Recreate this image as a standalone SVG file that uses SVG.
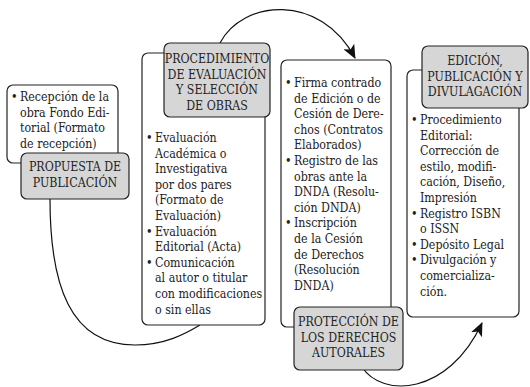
<svg xmlns="http://www.w3.org/2000/svg" width="530" height="387" viewBox="0 0 530 387">
<defs>
<marker id="ah" viewBox="0 0 14 12" refX="13" refY="6" markerWidth="14" markerHeight="12" markerUnits="userSpaceOnUse" orient="auto">
<path d="M0,0 L14,6 L0,12 L3.5,6 Z" fill="#111"/>
</marker>
<style>
text{font-family:"DejaVu Serif Condensed","DejaVu Serif",serif;font-stretch:condensed;font-size:12.3px;fill:#222}
.c{text-anchor:middle}
.w{fill:#fff;stroke:#222;stroke-width:1.2}
.g{fill:#d6d6d6;stroke:#222;stroke-width:1.2}
.ln{fill:none;stroke:#111;stroke-width:1.2}
</style>
</defs>
<rect width="530" height="387" fill="#fff"/>
<g id="connectors">
<path class="ln" d="M50,199 C50,285 70,345 135,345 C165,345 185,334 200,325"/>
<path class="ln" d="M220,43 C242,0 320,-8 355,58" marker-end="url(#ah)"/>
<path class="ln" d="M362,367 C382,398 448,396 482,323" marker-end="url(#ah)"/>
</g>
<g id="propuesta">
<rect class="w" x="7" y="85" width="111" height="78" rx="6"/>
<text x="11" y="101">•</text>
<text x="20" y="101">Recepción de la</text>
<text x="20" y="116.6">obra Fondo Edi-</text>
<text x="20" y="132.2">torial (Formato</text>
<text x="20" y="147.8">de recepción)</text>
<rect class="g" x="21" y="153" width="108" height="46" rx="6"/>
<text class="c" x="75" y="171">PROPUESTA DE</text>
<text class="c" x="75" y="186.6">PUBLICACIÓN</text>
</g>
<g id="evaluacion">
<rect class="w" x="142" y="53" width="123" height="272" rx="6"/>
<rect class="g" x="164" y="43" width="106" height="74" rx="6"/>
<text class="c" x="217" y="63">PROCEDIMIENTO</text>
<text class="c" x="217" y="78.6">DE EVALUACIÓN</text>
<text class="c" x="217" y="94.2">Y SELECCIÓN</text>
<text class="c" x="217" y="109.8">DE OBRAS</text>
<text x="146" y="142">•</text>
<text x="155" y="142">Evaluación</text>
<text x="155" y="157.6">Académica o</text>
<text x="155" y="173.2">Investigativa</text>
<text x="155" y="188.8">por dos pares</text>
<text x="155" y="204.4">(Formato de</text>
<text x="155" y="220">Evaluación)</text>
<text x="146" y="235.6">•</text>
<text x="155" y="235.6">Evaluación</text>
<text x="155" y="251.2">Editorial (Acta)</text>
<text x="146" y="266.8">•</text>
<text x="155" y="266.8">Comunicación</text>
<text x="155" y="282.4">al autor o titular</text>
<text x="155" y="298">con modificaciones</text>
<text x="155" y="313.6">o sin ellas</text>
</g>
<g id="proteccion">
<rect class="w" x="281" y="60" width="110" height="267" rx="6"/>
<text x="285" y="87">•</text>
<text x="294" y="87">Firma contrado</text>
<text x="294" y="102.6">de Edición o de</text>
<text x="294" y="118.2">Cesión de Dere-</text>
<text x="294" y="133.8">chos (Contratos</text>
<text x="294" y="149.4">Elaborados)</text>
<text x="285" y="165">•</text>
<text x="294" y="165">Registro de las</text>
<text x="294" y="180.6">obras ante la</text>
<text x="294" y="196.2">DNDA (Resolu-</text>
<text x="294" y="211.8">ción DNDA)</text>
<text x="285" y="227.4">•</text>
<text x="294" y="227.4">Inscripción</text>
<text x="294" y="243">de la Cesión</text>
<text x="294" y="258.6">de Derechos</text>
<text x="294" y="274.2">(Resolución</text>
<text x="294" y="289.8">DNDA)</text>
<rect class="g" x="294" y="307" width="109" height="63" rx="6"/>
<text class="c" x="348.5" y="326">PROTECCIÓN DE</text>
<text class="c" x="348.5" y="341.6">LOS DERECHOS</text>
<text class="c" x="348.5" y="357.2">AUTORALES</text>
</g>
<g id="edicion">
<rect class="w" x="407" y="70" width="112" height="247" rx="6"/>
<rect class="g" x="422" y="46" width="106" height="62" rx="6"/>
<text class="c" x="475" y="65">EDICIÓN,</text>
<text class="c" x="475" y="80.6">PUBLICACIÓN Y</text>
<text class="c" x="475" y="96.2">DIVULAGACIÓN</text>
<text x="411" y="124">•</text>
<text x="420" y="124">Procedimiento</text>
<text x="420" y="139.6">Editorial:</text>
<text x="420" y="155.2">Corrección de</text>
<text x="420" y="170.8">estilo, modifi-</text>
<text x="420" y="186.4">cación, Diseño,</text>
<text x="420" y="202">Impresión</text>
<text x="411" y="217.6">•</text>
<text x="420" y="217.6">Registro ISBN</text>
<text x="420" y="233.2">o ISSN</text>
<text x="411" y="248.8">•</text>
<text x="420" y="248.8">Depósito Legal</text>
<text x="411" y="264.4">•</text>
<text x="420" y="264.4">Divulgación y</text>
<text x="420" y="280">comercializa-</text>
<text x="420" y="295.6">ción.</text>
</g>
</svg>
